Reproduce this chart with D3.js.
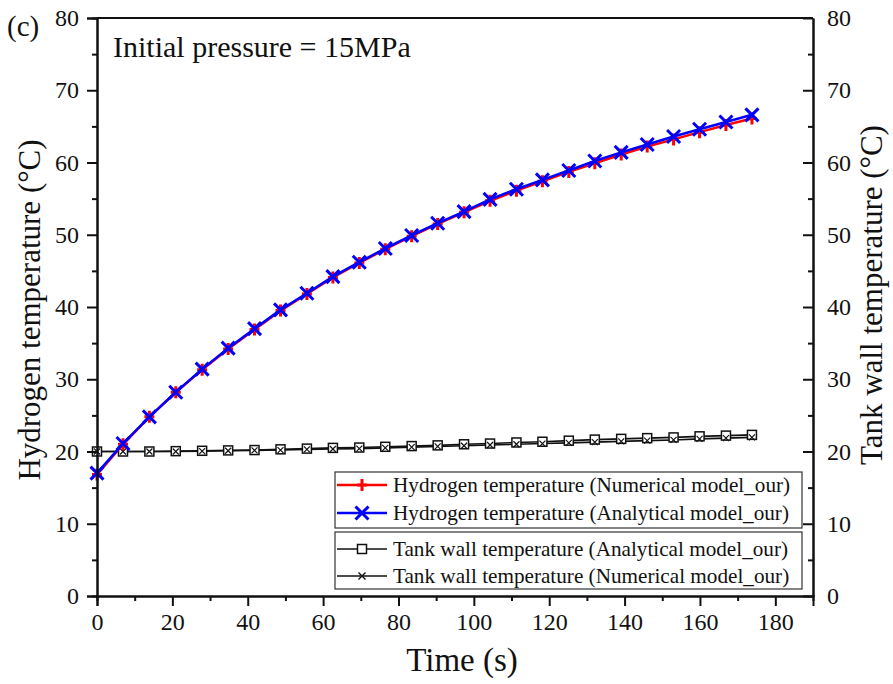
<!DOCTYPE html>
<html>
<head>
<meta charset="utf-8">
<script src="https://cdn.jsdelivr.net/npm/d3@7"></script>
<style>
  body { margin: 0; background: #fff; }
  svg text { font-family: "Liberation Serif", "DejaVu Serif", serif; fill: #111; }
</style>
</head>
<body>
<svg id="chart" width="893" height="684"></svg>
<script>
// time of each marker (s)
var times = [0, 6.9, 13.9, 20.9, 27.9, 34.8, 41.8, 48.7, 55.7, 62.6, 69.6, 76.5, 83.5,
  90.4, 97.4, 104.3, 111.3, 118.2, 125.2, 132.1, 139.1, 146, 153, 159.9, 166.9, 173.8];

var h2Numerical = [16.8, 21.0, 24.8, 28.2, 31.3, 34.2, 36.9, 39.5, 41.8, 44.1, 46.1, 48.0, 49.8,
  51.5, 53.1, 54.7, 56.1, 57.4, 58.7, 59.9, 61.1, 62.2, 63.2, 64.2, 65.2, 66.1];
var h2Analytical = [17.0, 21.1, 24.8, 28.2, 31.4, 34.3, 37.0, 39.6, 41.9, 44.2, 46.2, 48.1, 49.9,
  51.6, 53.2, 54.9, 56.3, 57.6, 58.9, 60.2, 61.4, 62.5, 63.6, 64.6, 65.6, 66.6];
var wallAnalytical = [20.0, 20.0, 20.0, 20.05, 20.1, 20.15, 20.2, 20.3, 20.4, 20.5, 20.55, 20.65, 20.75,
  20.85, 21.0, 21.1, 21.25, 21.35, 21.5, 21.65, 21.75, 21.85, 21.95, 22.1, 22.2, 22.3];
var wallNumerical = [20.0, 20.0, 20.0, 20.0, 20.05, 20.1, 20.15, 20.2, 20.3, 20.35, 20.4, 20.5, 20.6,
  20.7, 20.8, 20.9, 21.0, 21.1, 21.2, 21.3, 21.4, 21.5, 21.6, 21.75, 21.85, 21.95];

var xTicks = [0, 20, 40, 60, 80, 100, 120, 140, 160, 180];
var yTicks = [0, 10, 20, 30, 40, 50, 60, 70, 80];

var legendLabels = [
  "Hydrogen temperature (Numerical model_our)",
  "Hydrogen temperature (Analytical model_our)",
  "Tank wall temperature (Analytical model_our)",
  "Tank wall temperature (Numerical model_our)"
];

var FONT = '"Liberation Serif", "DejaVu Serif", serif';
var svg = d3.select("#chart");
var x = d3.scaleLinear().domain([0, 190]).range([97, 813]);
var y = d3.scaleLinear().domain([0, 80]).range([596, 18]);

function pts(vals) { return times.map(function(t, i) { return [t, vals[i]]; }); }
var line = d3.line().x(function(d) { return x(d[0]); }).y(function(d) { return y(d[1]); });

// marker shapes
function plus(g, cx, cy, color) {
  g.append("path").attr("d", "M" + (cx - 5) + "," + cy + "H" + (cx + 5) + "M" + cx + "," + (cy - 6) + "V" + (cy + 6))
    .attr("stroke", color).attr("stroke-width", 3).attr("fill", "none");
}
function cross(g, cx, cy, r, color, w) {
  g.append("path").attr("d", "M" + (cx - r) + "," + (cy - r) + "L" + (cx + r) + "," + (cy + r) +
      "M" + (cx - r) + "," + (cy + r) + "L" + (cx + r) + "," + (cy - r))
    .attr("stroke", color).attr("stroke-width", w).attr("fill", "none");
}
function square(g, cx, cy, color) {
  g.append("rect").attr("x", cx - 4.5).attr("y", cy - 4.5).attr("width", 9).attr("height", 9)
    .attr("fill", "#fff").attr("stroke", color).attr("stroke-width", 1.5);
}

var plot = svg.append("g");

// tank wall lines
plot.append("path").datum(pts(wallAnalytical)).attr("d", line)
  .attr("fill", "none").attr("stroke", "#111").attr("stroke-width", 1.6);
plot.append("path").datum(pts(wallNumerical)).attr("d", line)
  .attr("fill", "none").attr("stroke", "#111").attr("stroke-width", 1.6);
pts(wallAnalytical).forEach(function(d) { square(plot, x(d[0]), y(d[1]), "#111"); });
pts(wallNumerical).forEach(function(d) { cross(plot, x(d[0]), y(d[1]), 3, "#111", 1.2); });

// hydrogen lines
plot.append("path").datum(pts(h2Numerical)).attr("d", line)
  .attr("fill", "none").attr("stroke", "#ff0000").attr("stroke-width", 2.5);
pts(h2Numerical).forEach(function(d) { plus(plot, x(d[0]), y(d[1]), "#ff0000"); });
plot.append("path").datum(pts(h2Analytical)).attr("d", line)
  .attr("fill", "none").attr("stroke", "#0000ff").attr("stroke-width", 2.5);
pts(h2Analytical).forEach(function(d) { cross(plot, x(d[0]), y(d[1]), 6.5, "#0000ff", 3); });

// axes
var minorX = d3.range(10, 190, 20);
var minorY = d3.range(5, 80, 10);

svg.append("g").attr("transform", "translate(0,596)")
  .call(d3.axisBottom(x).tickValues(xTicks).tickSize(10).tickPadding(7));
svg.append("g").attr("transform", "translate(0,596)")
  .call(d3.axisBottom(x).tickValues(minorX).tickSize(5).tickFormat(""));

svg.append("g").attr("transform", "translate(97,0)")
  .call(d3.axisLeft(y).tickValues(yTicks).tickSize(10).tickPadding(8));
svg.append("g").attr("transform", "translate(97,0)")
  .call(d3.axisLeft(y).tickValues(minorY).tickSize(5).tickFormat(""));

// right axis: ticks point inward
svg.append("g").attr("transform", "translate(813,0)")
  .call(d3.axisRight(y).tickValues(yTicks).tickSizeInner(-10).tickSizeOuter(0).tickPadding(14));
svg.append("g").attr("transform", "translate(813,0)")
  .call(d3.axisRight(y).tickValues(minorY).tickSizeInner(-5).tickSizeOuter(0).tickFormat(""));

svg.append("line").attr("x1", 97).attr("x2", 813).attr("y1", 18).attr("y2", 18)
  .attr("stroke", "#111").attr("stroke-width", 2);

svg.selectAll(".domain").attr("stroke", "#111").attr("stroke-width", 2);
svg.selectAll(".tick line").attr("stroke", "#111").attr("stroke-width", 2);
svg.selectAll("g[font-family]").attr("font-family", FONT).attr("font-size", 24);
svg.selectAll(".tick text").style("font-family", FONT).style("font-size", "24px").attr("fill", "#111");

// axis titles
svg.append("text").attr("x", 462).attr("y", 671).attr("text-anchor", "middle")
  .style("font-family", FONT).style("font-size", "33px").text("Time (s)");
svg.append("text").attr("transform", "translate(40,310) rotate(-90)").attr("text-anchor", "middle")
  .style("font-family", FONT).style("font-size", "31px").text("Hydrogen temperature (°C)");
svg.append("text").attr("transform", "translate(882,295) rotate(-90)").attr("text-anchor", "middle")
  .style("font-family", FONT).style("font-size", "31px").text("Tank wall temperature (°C)");

svg.append("text").attr("x", 7).attr("y", 36).style("font-family", FONT).style("font-size", "29px").text("(c)");
svg.append("text").attr("x", 113).attr("y", 57).style("font-family", FONT).style("font-size", "30px")
  .text("Initial pressure = 15MPa");

// legend
var boxes = [[472, 528], [532, 589]];
boxes.forEach(function(b) {
  svg.append("rect").attr("x", 335).attr("y", b[0]).attr("width", 467).attr("height", b[1] - b[0])
    .attr("fill", "#fff").attr("stroke", "#333").attr("stroke-width", 1.2);
});
var rowsY = [485, 513, 549, 576];
var legendStyle = [
  { color: "#ff0000", w: 2.5, mark: function(g, cx, cy) { plus(g, cx, cy, "#ff0000"); } },
  { color: "#0000ff", w: 2.5, mark: function(g, cx, cy) { cross(g, cx, cy, 6.5, "#0000ff", 3); } },
  { color: "#111", w: 1.6, mark: function(g, cx, cy) { square(g, cx, cy, "#111"); } },
  { color: "#111", w: 1.6, mark: function(g, cx, cy) { cross(g, cx, cy, 3.5, "#111", 1.4); } }
];
var leg = svg.append("g");
legendLabels.forEach(function(lab, i) {
  var ly = rowsY[i], s = legendStyle[i];
  leg.append("line").attr("x1", 337).attr("x2", 387).attr("y1", ly).attr("y2", ly)
    .attr("stroke", s.color).attr("stroke-width", s.w);
  s.mark(leg, 362, ly);
  leg.append("text").attr("x", 393).attr("y", ly + 7).style("font-family", FONT)
    .style("font-size", "21.2px").text(lab);
});
</script>
</body>
</html>
